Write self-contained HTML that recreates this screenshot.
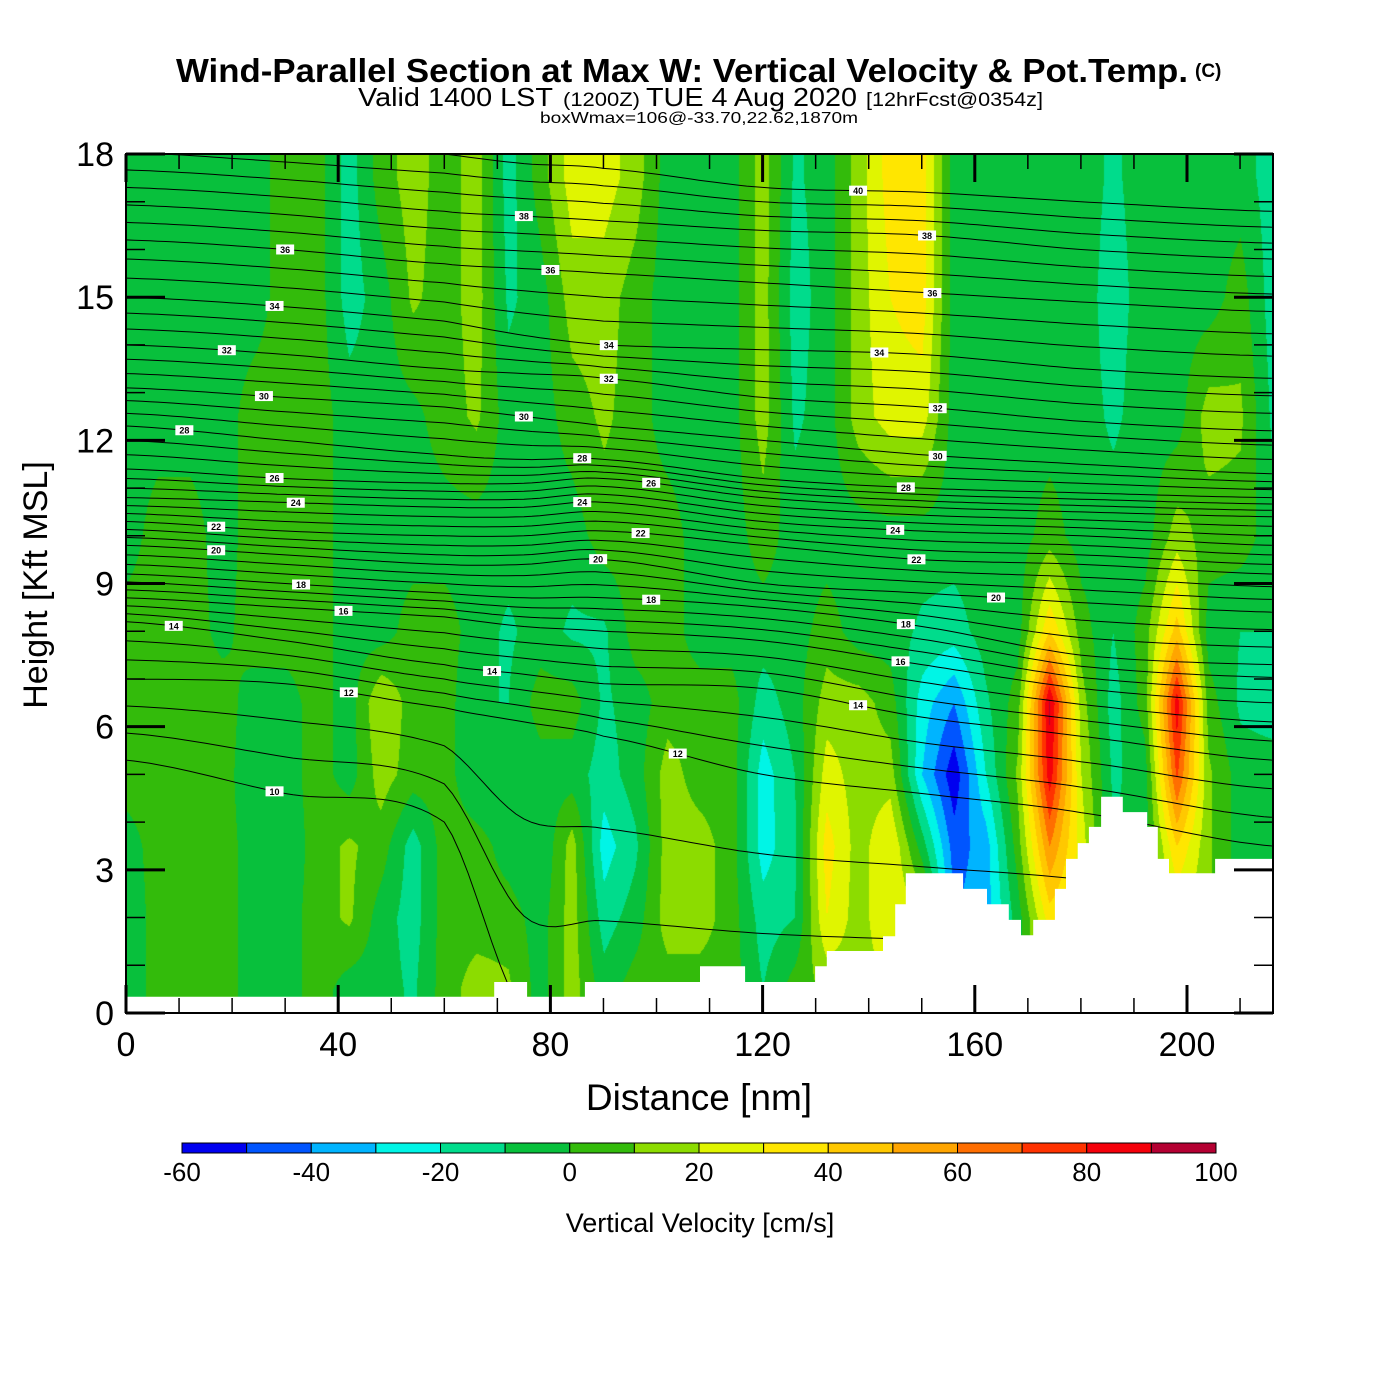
<!DOCTYPE html>
<html><head><meta charset="utf-8">
<style>
body{margin:0;background:#fff;width:1400px;height:1400px;overflow:hidden;position:relative;font-family:"Liberation Sans",Arial,sans-serif}
#field{position:absolute;left:126px;top:154px}
#chart{position:absolute;left:0;top:0}
</style></head>
<body>
<canvas id="field" width="1147" height="859"></canvas>
<svg id="chart" width="1400" height="1400" xmlns="http://www.w3.org/2000/svg">
<defs><clipPath id="plotclip"><rect x="126" y="154" width="1147" height="859"/></clipPath></defs>
<g id="contours" clip-path="url(#plotclip)"></g>
<path id="terrain" fill="#fff" stroke="none"></path>
<g id="clabels"></g>
<rect x="126" y="154" width="1147" height="859" fill="none" stroke="#000" stroke-width="2"/>
<g id="ticks"></g>
<g id="ticklabels" font-size="34" fill="#000"></g>
<text x="176" y="82" font-size="33" font-weight="bold" textLength="1012" lengthAdjust="spacingAndGlyphs">Wind-Parallel Section at Max W: Vertical Velocity &amp; Pot.Temp.</text>
<text x="1195" y="77" font-size="19" font-weight="bold">(C)</text>
<text y="106"><tspan x="358" font-size="26" textLength="195" lengthAdjust="spacingAndGlyphs">Valid 1400 LST</tspan><tspan x="563" font-size="19" textLength="77" lengthAdjust="spacingAndGlyphs">(1200Z)</tspan><tspan x="646" font-size="26" textLength="211" lengthAdjust="spacingAndGlyphs">TUE 4 Aug 2020</tspan><tspan x="866" font-size="19" textLength="177" lengthAdjust="spacingAndGlyphs">[12hrFcst@0354z]</tspan></text>
<text x="540" y="123" font-size="16" textLength="318" lengthAdjust="spacingAndGlyphs">boxWmax=106@-33.70,22.62,1870m</text>
<text x="699" y="1110" font-size="37" text-anchor="middle">Distance [nm]</text>
<text x="0" y="0" font-size="34" text-anchor="middle" transform="translate(47,585) rotate(-90)">Height [Kft MSL]</text>
<g id="colorbar"></g>
<text x="700" y="1232" font-size="27" text-anchor="middle">Vertical Velocity [cm/s]</text>
</svg>
<script>
// ---------- data ----------
const distStations = [0,6,12,18,24,30,36,42,48,54,60,66,72,78,84,90,96,102,108,114,120,126,132,138,144,150,156,162,168,174,180,186,192,198,204,210,216];
const heightRows = [0.5,2,3.5,5,6.5,8,10,12.5,15,17.5];
const wColumns = [
[-8,-8,-5,5,5,5,-5,-5,-5,-5],
[5,5,5,5,5,5,5,-5,-5,-5],
[5,5,5,5,5,5,5,-5,-5,-5],
[5,5,5,5,5,-3,-5,-5,-5,-5],
[-5,-5,-5,-8,-5,5,5,5,-5,-5],
[-5,-5,-8,-5,-5,5,5,5,5,5],
[5,5,5,5,5,5,5,5,5,5],
[-5,12,12,-5,-5,-5,-5,-5,-15,-15],
[-5,-5,5,15,20,-5,-5,-5,-5,5],
[-12,-15,-15,5,5,5,-5,-3,12,15],
[5,5,5,5,5,5,-5,5,5,5],
[15,5,5,-10,-10,-5,-5,12,15,15],
[12,5,-5,-10,-10,-12,-5,-5,-12,-15],
[-5,-5,-10,-5,5,-5,-5,-5,-5,5],
[15,15,15,-5,5,-12,-5,5,15,25],
[-5,-15,-25,-15,-12,-12,5,12,15,25],
[5,-5,-12,-5,-5,5,5,5,5,15],
[5,15,15,15,5,5,5,-5,-5,-5],
[5,15,15,5,5,-5,-5,-5,-5,-5],
[5,5,5,5,5,-5,-5,-5,-5,-5],
[-10,-15,-25,-25,-15,-5,5,15,15,15],
[5,-10,-12,-10,-5,-5,-5,-12,-15,-12],
[12,30,35,25,15,5,-5,-5,-5,-5],
[15,15,15,15,15,-5,-5,15,15,15],
[20,30,30,15,5,-5,-5,25,30,35],
[20,20,-5,-30,-25,-12,-5,25,35,35],
[-40,-40,-45,-57,-40,-15,-5,-5,-5,-5],
[-35,-35,-35,-20,-12,-5,-5,-5,-5,-5],
[-5,-5,5,12,5,-5,-5,-5,-5,-5],
[30,35,60,86,92,40,5,-5,-5,-5],
[20,25,25,20,15,5,-5,-5,-5,-5],
[-10,-10,-10,-12,-15,-10,-5,-12,-15,-12],
[-5,-5,-5,-5,5,5,-5,-5,-5,-5],
[20,20,40,72,86,45,15,-5,-5,-5],
[12,12,12,12,5,-5,5,15,-5,-5],
[-5,-5,-5,-5,-12,-10,5,12,5,-5],
[-5,-5,-5,-5,-15,-10,-5,-12,-15,-15]
];
const colorLevels = [-60,-50,-40,-30,-20,-10,0,10,20,30,40,50,60,70,80,90,100];
const colorBins = ["#0000f0","#0055ff","#00b4ff","#00f5e6","#00dc8c","#08c03c","#33bb0b","#8cdc00","#e0f500","#ffe600","#ffc800","#ffa500","#ff6e00","#ff3200","#f5000a","#b40032"];
const colorTickLabels = ["-60","-40","-20","0","20","40","60","80","100"];
const terrainX = [0,69.4,75.6,86.5,108.2,116.7,129.9,132.1,142.7,145.0,147.0,157.8,162.3,166.4,168.7,171.0,175.1,177.2,179.4,181.5,183.8,187.9,192.5,194.5,196.6,205.3];
const terrainH = [0.34,0.65,0.34,0.65,0.98,0.65,0.98,1.30,1.61,2.28,2.93,2.60,2.28,1.95,1.63,1.95,2.60,3.23,3.56,3.90,4.53,4.21,3.90,3.23,2.93,3.23];
const thetaStations = [0,30,60,75,90,120,150,180,216];
const thetaKeyLevels = [10,12,14,16,18,20,22,24,26,28,30,32,34,36,38,40];
const thetaKeyHeights = [
[5.3,4.6,4.0,0,0,0,0,0,0],
[7.0,6.9,6.4,6.1,5.8,5.0,4.6,4.2,3.5],
[8.2,7.8,7.3,7.1,6.9,6.8,6.2,5.8,5.3],
[8.7,8.5,8.3,8.1,8.0,7.8,7.3,6.8,6.5],
[9.2,9.0,8.8,8.7,8.7,8.5,8.1,7.5,7.3],
[9.8,9.6,9.4,9.4,9.5,9.0,8.8,8.6,8.4],
[10.3,10.1,10.0,10.0,10.1,9.8,9.5,9.4,9.2],
[10.8,10.7,10.6,10.6,10.7,10.3,10.1,10.0,9.8],
[11.4,11.2,11.1,11.1,11.2,10.8,10.6,10.5,10.4],
[12.3,12.0,11.7,11.6,11.6,11.2,11.0,10.9,10.8],
[13.1,12.9,12.7,12.5,12.3,12.0,11.7,11.5,11.3],
[14.0,13.8,13.5,13.4,13.3,12.9,12.7,12.4,12.2],
[15.0,14.8,14.5,14.2,14.0,13.9,13.8,13.5,13.3],
[16.2,16.0,15.7,15.6,15.5,15.3,15.1,14.9,14.7],
[17.3,17.1,16.8,16.7,16.6,16.4,16.3,16.0,15.8],
[18.4,18.2,18.0,17.8,17.7,17.3,17.2,17.0,16.8]
];
const labelLevels = [36,34,32,30,28,26,24,22,20,18,16,14,12,10, 38,36,34,32,30,28,24,20,22,26,18,14,12, 40,38,36,34,32,30,28,24,22,20,18,16,14];
const labelDist =   [30,28,19,26,11,28,32,17,17,33,41,9,42,28, 75,80,91,91,75,86,86,89,97,99,99,69,104, 138,151,152,142,153,153,147,145,149,164,147,146,138];
const xTicks = [0,40,80,120,160,200];
const yTicks = [0,3,6,9,12,15,18];

// ---------- scales ----------
const X0=126, Y0=1013, PXNM=5.305, PXK=47.72;
function xs(nm){return X0+nm*PXNM;}
function ys(h){return Y0-h*PXK;}
const NS='http://www.w3.org/2000/svg';

function wAt(nm,h){
  let i=Math.floor(nm/6); if(i<0)i=0; if(i>35)i=35;
  let tx=(nm-distStations[i])/6; tx=Math.max(0,Math.min(1,tx));
  let j=0; while(j<heightRows.length-2 && h>heightRows[j+1]) j++;
  let ty=(h-heightRows[j])/(heightRows[j+1]-heightRows[j]); ty=Math.max(0,Math.min(1,ty));
  const a=wColumns[i][j], b=wColumns[i+1][j], c=wColumns[i][j+1], d=wColumns[i+1][j+1];
  return (a*(1-tx)+b*tx)*(1-ty)+(c*(1-tx)+d*tx)*ty;
}
function hexRGB(hx){return [parseInt(hx.substr(1,2),16),parseInt(hx.substr(3,2),16),parseInt(hx.substr(5,2),16)];}

// ---------- field ----------
(function(){
  const cv=document.getElementById('field'); const ctx=cv.getContext('2d');
  const W=cv.width,H=cv.height; const img=ctx.createImageData(W,H); const rgb=colorBins.map(hexRGB);
  for(let py=0;py<H;py++){
    const h=(H-py)/PXK;
    for(let px=0;px<W;px++){
      const nm=px/PXNM; const w=wAt(nm,h);
      let k=Math.floor((w-colorLevels[0])/10); if(k<0)k=0; if(k>15)k=15;
      const o=(py*W+px)*4; img.data[o]=rgb[k][0]; img.data[o+1]=rgb[k][1]; img.data[o+2]=rgb[k][2]; img.data[o+3]=255;
    }
  }
  ctx.putImageData(img,0,0);
})();

// ---------- theta contours ----------
function keyHeightAt(row,nm){
  let i=0; while(i<thetaStations.length-2 && nm>thetaStations[i+1]) i++;
  const t=(nm-thetaStations[i])/(thetaStations[i+1]-thetaStations[i]);
  const p0=row[Math.max(0,i-1)],p1=row[i],p2=row[i+1],p3=row[Math.min(row.length-1,i+2)];
  const t2=t*t,t3=t2*t;
  return 0.5*((2*p1)+(-p0+p2)*t+(2*p0-5*p1+4*p2-p3)*t2+(-p0+3*p1-3*p2+p3)*t3);
}
function levelHeightAt(theta,nm){
  let k=Math.floor((theta-thetaKeyLevels[0])/2); if(k<0)k=0; if(k>thetaKeyLevels.length-2)k=thetaKeyLevels.length-2;
  const f=(theta-thetaKeyLevels[k])/2;
  return keyHeightAt(thetaKeyHeights[k],nm)*(1-f)+keyHeightAt(thetaKeyHeights[k+1],nm)*f;
}
(function(){
  const g=document.getElementById('contours');
  const levels=[];
  for(let k=0;k<thetaKeyLevels.length-1;k++){for(let s=0;s<3;s++){levels.push(thetaKeyLevels[k]+s*2/3);}}
  levels.push(thetaKeyLevels[thetaKeyLevels.length-1]);
  for(const theta of levels){
    let d='';
    for(let nm=0;nm<=216.5;nm+=1.5){
      d+=(nm===0?'M':'L')+xs(nm).toFixed(1)+','+ys(levelHeightAt(theta,nm)).toFixed(1);
    }
    const p=document.createElementNS(NS,'path');
    p.setAttribute('d',d); p.setAttribute('fill','none'); p.setAttribute('stroke','#000'); p.setAttribute('stroke-width','1');
    
    
    g.appendChild(p);
  }
})();

// ---------- terrain ----------
(function(){
  let d='M'+xs(0)+','+ys(0);
  for(let i=0;i<terrainX.length;i++){
    const x1=xs(terrainX[i]); const x2=xs(i<terrainX.length-1?terrainX[i+1]:216.2);
    d+='L'+x1.toFixed(1)+','+ys(terrainH[i]).toFixed(1)+'L'+x2.toFixed(1)+','+ys(terrainH[i]).toFixed(1);
  }
  d+='L'+xs(216.2)+','+ys(0)+'Z';
  document.getElementById('terrain').setAttribute('d',d);
})();

// ---------- contour labels ----------
(function(){
  const g=document.getElementById('clabels');
  for(let i=0;i<labelLevels.length;i++){
    const cx=xs(labelDist[i]), cy=ys(levelHeightAt(labelLevels[i],labelDist[i]));
    const r=document.createElementNS(NS,'rect');
    r.setAttribute('x',cx-9); r.setAttribute('y',cy-5); r.setAttribute('width',18); r.setAttribute('height',10); r.setAttribute('fill','#fff');
    
    
    g.appendChild(r);
    const t=document.createElementNS(NS,'text');
    t.setAttribute('x',cx); t.setAttribute('y',cy+3.5); t.setAttribute('font-size','9'); t.setAttribute('font-weight','bold'); t.setAttribute('text-anchor','middle');
    t.textContent=String(labelLevels[i]);
    
    
    g.appendChild(t);
  }
})();

// ---------- ticks ----------
(function(){
  const g=document.getElementById('ticks'); const tl=document.getElementById('ticklabels');
  function line(x1,y1,x2,y2,w){
    const l=document.createElementNS(NS,'line');
    l.setAttribute('x1',x1);l.setAttribute('y1',y1);l.setAttribute('x2',x2);l.setAttribute('y2',y2);
    l.setAttribute('stroke','#000');l.setAttribute('stroke-width',w);
    
    
    g.appendChild(l);
  }
  for(let nm=0;nm<=216;nm+=10){
    const major=(nm%40===0); const L=major?28:15; const x=xs(nm);
    line(x,1013,x,1013-L,major?3:1.5); line(x,154,x,154+L,major?3:1.5);
  }
  for(let h=0;h<=18;h++){
    const major=(h%3===0); const L=major?39:19; const y=ys(h);
    line(126,y,126+L,y,major?3:1.5); line(1273,y,1273-L,y,major?3:1.5);
  }
  for(const v of xTicks){
    const t=document.createElementNS(NS,'text');
    t.setAttribute('x',xs(v)); t.setAttribute('y',1056); t.setAttribute('text-anchor','middle');
    t.textContent=String(v);
    
    
    tl.appendChild(t);
  }
  for(const v of yTicks){
    const t=document.createElementNS(NS,'text');
    t.setAttribute('x',114); t.setAttribute('y',ys(v)+12); t.setAttribute('text-anchor','end');
    t.textContent=String(v);
    
    
    tl.appendChild(t);
  }
})();

// ---------- colorbar ----------
(function(){
  const g=document.getElementById('colorbar');
  const cx0=182, cw=(1216-182)/colorBins.length;
  for(let i=0;i<colorBins.length;i++){
    const r=document.createElementNS(NS,'rect');
    r.setAttribute('x',cx0+i*cw); r.setAttribute('y',1143); r.setAttribute('width',cw); r.setAttribute('height',10);
    r.setAttribute('fill',colorBins[i]); r.setAttribute('stroke','#000'); r.setAttribute('stroke-width','1');
    
    
    g.appendChild(r);
  }
  for(let i=0;i<colorTickLabels.length;i++){
    const t=document.createElementNS(NS,'text');
    t.setAttribute('x',cx0+i*2*cw); t.setAttribute('y',1181); t.setAttribute('font-size','26'); t.setAttribute('text-anchor','middle');
    t.textContent=colorTickLabels[i];
    
    
    g.appendChild(t);
  }
})();
</script>
</body></html>
